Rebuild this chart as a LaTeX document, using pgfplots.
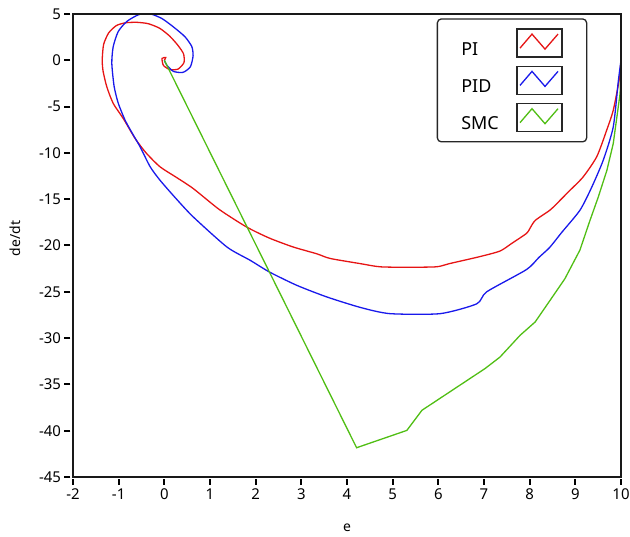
\documentclass[border=0pt]{standalone}
\usepackage{fontspec}
\setmainfont{Noto Sans}
\usepackage{pgfplots}
\pgfplotsset{compat=1.18}
\definecolor{cred}{RGB}{230,20,20}
\definecolor{cblue}{RGB}{25,25,235}
\definecolor{cgreen}{RGB}{80,190,20}
\begin{document}
\begin{tikzpicture}
\begin{axis}[
  scale only axis, width=548bp, height=463bp,
  xmin=-2, xmax=10, ymin=-45, ymax=5,
  xtick={-2,-1,...,10}, ytick={-45,-40,...,5},
  xtick pos=left, ytick pos=left,
  major tick length=0pt,
  axis line style={black!90, line width=1.8bp},
  /pgf/number format/assume math mode=true,
  ticklabel style={font=\fontsize{15}{17}\selectfont},
  xticklabel style={yshift=-8bp},
  yticklabel style={xshift=-8.5bp},
  label style={font=\fontsize{14}{16}\selectfont},
  xlabel={e}, ylabel={de/dt},
  xlabel style={at={([yshift=-51bp]rel axis cs:0.5,0)}, anchor=center},
  ylabel style={at={([xshift=-58bp]rel axis cs:0,0.515)}, anchor=center},
  every axis plot/.append style={line width=1.3bp},
  legend plot pos=right,
  legend style={at={(rel axis cs:0.6637,0.9907)}, anchor=north west,
    draw=black!85, line width=1.3bp, rounded corners=4bp,
    inner xsep=24bp, inner ysep=9.5bp, row sep=8bp, column sep=17bp,
    font=\fontsize{18}{20}\selectfont,
    nodes={inner sep=0pt, text width=38bp, align=left}},
  legend image code/.code={
    \draw[black!85, line width=1.3bp, sharp corners, solid] (0bp,-7.5bp) rectangle (45bp,20.5bp);
    \draw[#1, sharp corners] (3bp,1.5bp) -- (15bp,15.5bp) -- (28bp,0.5bp) -- (41bp,15.5bp);
  },
]
\coordinate (sw) at (rel axis cs:0,0);
\coordinate (ne) at (rel axis cs:1,1);
% PI
\addplot[cred, smooth, tension=0.4] coordinates {
(10,0) (9.96,-2.1) (9.83,-5.4) (9.69,-7.5) (9.47,-10.4) (9.17,-12.6) (8.85,-14.2)
(8.59,-15.5) (8.44,-16.2) (8.12,-17.3) (8.0,-18.2) (7.93,-18.7) (7.6,-19.8)
(7.35,-20.6) (6.91,-21.2) (6.25,-21.95) (5.96,-22.3) (5.3,-22.35) (4.72,-22.3)
(4.28,-21.95) (3.63,-21.4) (3.34,-20.9) (2.82,-20.16) (2.3,-19.2) (1.8,-18.0)
(1.2,-16.1) (0.63,-13.84) (0.25,-12.6) (-0.095,-11.5) (-0.4,-10.0) (-0.64,-8.44)
(-0.90,-6.28) (-1.12,-4.65) (-1.26,-2.86) (-1.34,-1.2) (-1.36,0) (-1.33,1.7)
(-1.22,2.95) (-1.05,3.75) (-0.85,4.05) (-0.6,4.1) (-0.35,3.95) (-0.1,3.45)
(0.12,2.6) (0.3,1.6) (0.42,0.7) (0.43,-0.25) (0.3,-0.95) (0.12,-1.0)
(-0.02,-0.55) (-0.05,0.2) (0.03,0.3) (0,0)
};
\addlegendentry{PI}
% PID
\addplot[cblue, smooth, tension=0.4] coordinates {
(10,0) (9.94,-2.3) (9.83,-7.2) (9.61,-10.8) (9.35,-13.8) (9.1,-16.2) (8.7,-18.6)
(8.44,-20.2) (8.2,-21.3) (7.93,-22.6) (7.06,-25.0) (6.84,-26.3) (6.04,-27.36)
(4.94,-27.36) (4.3,-26.7) (3.56,-25.56) (2.9,-24.3) (2.3,-22.86) (1.88,-21.6)
(1.37,-20.16) (0.63,-16.9) (0.25,-14.9) (-0.095,-12.95) (-0.31,-11.5) (-0.53,-9.35)
(-0.7,-7.9) (-0.86,-6.46) (-1.01,-4.62) (-1.1,-2.8) (-1.15,-0.33) (-1.12,1.46)
(-1.01,3.1) (-0.82,4.2) (-0.55,4.95) (-0.3,5.0) (-0.05,4.5) (0.2,3.6) (0.45,2.55)
(0.6,1.5) (0.63,0.5) (0.57,-0.7) (0.41,-1.3) (0.2,-1.2) (0.05,-0.5) (0,0)
};
\addlegendentry{PID}
% SMC
\addplot[cgreen] coordinates {
(10,0) (9.98,-3.6) (9.83,-9.0) (9.69,-11.9) (9.5,-14.8) (9.32,-17.3) (9.1,-20.5) (8.77,-23.6)
(8.45,-25.9) (8.12,-28.26) (7.79,-29.7) (7.35,-32.05) (7.02,-33.3) (5.64,-37.8)
(5.31,-39.97) (4.21,-41.84) (0,0)
};
\addlegendentry{SMC}
\end{axis}
\draw[black!90, line width=1.8bp] (sw) rectangle (ne);
\foreach \i in {0,...,12}
  \draw[black, line width=2bp] ([shift={({\i*45.6667bp},-2.5bp)}]sw) -- ++(0,-6bp);
\foreach \j in {0,...,10}
  \draw[black, line width=2bp] ([shift={(-2.5bp,{\j*46.3bp})}]sw) -- ++(-6bp,0);
\pgfresetboundingbox
\path ([shift={(-73bp,-60bp)}]sw) rectangle ([shift={(9bp,14bp)}]ne);
\end{tikzpicture}
\end{document}
